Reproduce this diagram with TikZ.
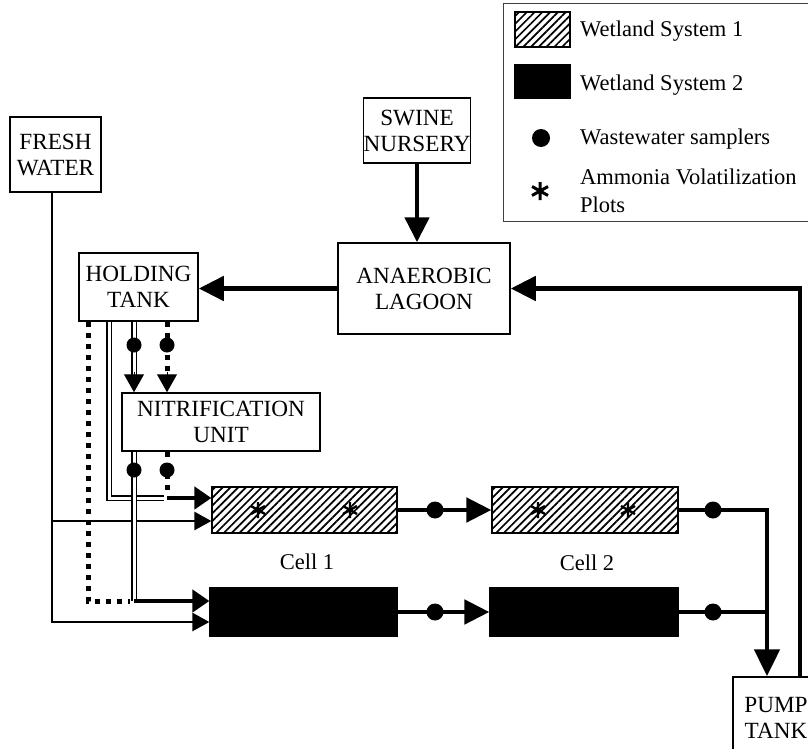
\documentclass[tikz,border=0pt]{standalone}
\usepackage{fontspec}
\setmainfont{Liberation Serif}
\usetikzlibrary{arrows.meta,patterns.meta,calc}
\newcommand\fsz{\fontsize{22.5}{26}\selectfont}
\newcommand\bfsz{\fontsize{23.2}{26}\selectfont}
\begin{document}
\begin{tikzpicture}[x=1pt,y=-1pt,
  box/.style={draw=black, line width=1.5pt, align=center, inner sep=0pt, font=\bfsz},
  lbl/.style={font=\fsz, inner sep=0pt},
  pipe/.style={line width=4.8pt},
  thinpipe/.style={line width=2.5pt},
  dbl/.style={draw=black, double=white, line width=1.7pt, double distance=3pt},
  dotline/.style={line width=5pt, dash pattern=on 5pt off 6pt},
  arrbig/.style={-{Triangle[width=24pt,length=25pt]}},
  arrmid/.style={-{Triangle[width=20pt,length=18pt]}},
  arrcellup/.style={-{Triangle[width=22pt,length=17pt]}},
  arrcelllo/.style={-{Triangle[width=18pt,length=17pt]}},
  arrcell/.style={-{Triangle[width=24pt,length=25pt]}},
  sampler/.style={circle, fill=black, inner sep=0pt, minimum size=15pt},
  hatchcell/.style={draw=black, line width=1.2pt, inner sep=0pt,
     pattern={Lines[angle=45,distance=5.5pt,line width=1.7pt]}},
  blackcell/.style={draw=black, fill=black, line width=1.2pt, inner sep=0pt},
  ast/.pic={\draw[line width=2.4pt] (0,-8)--(0,8) (-7,-4)--(7,4) (-7,4)--(7,-4);},
  bigast/.pic={\draw[line width=3pt] (0,-9)--(0,9) (-8,-4.5)--(8,4.5) (-8,4.5)--(8,-4.5);}
]
\useasboundingbox (0,0) rectangle (808,749);
\clip (0,0) rectangle (808,749);

% ---------- legend ----------
\node[draw=black!75, line width=1pt, minimum width=310pt, minimum height=218pt, inner sep=0pt, anchor=north west] (legend) at (503,3) {};
\node[hatchcell, minimum width=55pt, minimum height=35pt] (sw1) at (542.5,29.5) {};
\node[blackcell, minimum width=55pt, minimum height=33pt] (sw2) at (542.5,81.5) {};
\node[sampler, minimum size=18pt] (sdot) at (541,138) {};
\pic at (540,191) {bigast};
\node[lbl, anchor=base west] (t1) at (580,37) {Wetland System 1};
\node[lbl, anchor=base west] (t2) at (580,91) {Wetland System 2};
\node[lbl, anchor=base west] (t3) at (580,145) {Wastewater samplers};
\node[lbl, anchor=base west] (t4) at (580,184) {Ammonia Volatilization};
\node[lbl, anchor=base west] (t5) at (580,212) {Plots};

% ---------- boxes ----------
\node[box, minimum width=91pt, minimum height=75pt] (fresh) at (55.5,154.5) {FRESH\\WATER};
\node[box, minimum width=107pt, minimum height=65pt] (swine) at (417,130.5) {SWINE\\NURSERY};
\node[box, minimum width=172pt, minimum height=91pt] (lagoon) at (424,288.5) {ANAEROBIC\\LAGOON};
\node[box, minimum width=119pt, minimum height=68pt] (hold) at (138.5,287) {HOLDING\\TANK};
\node[box, minimum width=198pt, minimum height=58pt] (nitri) at (221,422) {NITRIFICATION\\UNIT};
\node[box, minimum width=86pt, minimum height=82pt] (pump) at (776,718) {PUMP\\TANK};

% ---------- cells ----------
\node[hatchcell, minimum width=185pt, minimum height=46pt] (c1a) at (304.5,510) {};
\node[hatchcell, minimum width=186pt, minimum height=46pt] (c2a) at (585,510) {};
\node[blackcell, minimum width=187pt, minimum height=48pt] (c1b) at (303.5,612) {};
\node[blackcell, minimum width=188pt, minimum height=48pt] (c2b) at (584,612) {};
\pic at (258,510) {ast};
\pic at (350,510) {ast};
\pic at (538,510) {ast};
\pic at (628,510) {ast};
\node[lbl] (cell1) at (307,562) {Cell 1};
\node[lbl] (cell2) at (587,563) {Cell 2};

% ---------- helper coordinates ----------
\coordinate (xF) at (52,0);
\coordinate (xA) at (88,0);
\coordinate (xB) at (109,0);
\coordinate (xD) at (134,0);
\coordinate (xE) at (167,0);
\coordinate (xP) at (767,0);
\coordinate (xR) at (800,0);
\coordinate (c1aU) at ($(c1a.west)+(0,-12)$);
\coordinate (c1aL) at ($(c1a.west)+(0,11)$);
\coordinate (c1bU) at ($(c1b.west)+(0,-11)$);
\coordinate (c1bL) at ($(c1b.west)+(0,10)$);

% ---------- main flow ----------
\draw[pipe, arrbig] (swine.south) -- (swine.south |- lagoon.north);
\draw[pipe, arrbig] (lagoon.west) -- (lagoon.west -| hold.east);
\draw[pipe, arrbig] (pump.north -| xR) -- (xR |- lagoon.east) -- (lagoon.east);

% fresh water
\draw[thinpipe, arrcelllo] (fresh.south -| xF) -- (xF |- c1bL) -- (c1bL);
\draw[thinpipe, arrcelllo] (xF |- c1aL) -- (c1aL);

% dotted bypass to system 2
\draw[dotline] (hold.south -| xA) -- (xA |- c1bU) -- ($(xD |- c1bU)+(-4,0)$);
% double line bypass to system 1
\draw[dbl] (hold.south -| xB) -- (xB |- c1aU) -- ($(xE |- c1aU)+(-3,0)$);
% holding tank -> nitrification (double, system 2)
\draw[dbl] (hold.south -| xD) -- ($(nitri.north -| xD)+(0,-17)$);
\draw[line width=1pt, arrmid] ($(nitri.north -| xD)+(0,-20)$) -- (nitri.north -| xD);
% holding tank -> nitrification (dotted, system 1)
\draw[dotline] (hold.south -| xE) -- ($(nitri.north -| xE)+(0,-17)$);
\draw[line width=1pt, arrmid] ($(nitri.north -| xE)+(0,-20)$) -- (nitri.north -| xE);
\node[sampler] (sD1) at (134,345) {};
\node[sampler] (sE1) at (167,345) {};
% nitrification -> cells
\draw[dotline] (nitri.south -| xE) -- ($(xE |- c1aU)+(0,-3)$);
\draw[pipe, arrcellup] (xE |- c1aU) -- (c1aU);
\draw[dbl] (nitri.south -| xD) -- (xD |- c1bU);
\draw[pipe, arrcellup] (xD |- c1bU) -- (c1bU);
\node[sampler] (sD2) at (134,470) {};
\node[sampler] (sE2) at (167,470) {};

% between cells
\draw[pipe, arrcell] (c1a.east) -- (c2a.west);
\draw[pipe, arrcell] (c1b.east) -- (c2b.west);
\node[sampler, minimum size=17pt] (s1) at (435,510) {};
\node[sampler, minimum size=17pt] (s2) at (435,612) {};

% to pump tank
\draw[pipe, -{Triangle[width=25pt,length=27pt]}] (c2a.east) -- (c2a.east -| xP) -- (pump.north -| xP);
\draw[pipe] (c2b.east) -- (c2b.east -| xP);
\node[sampler, minimum size=17pt] (s3) at (713,510) {};
\node[sampler, minimum size=17pt] (s4) at (713,612) {};
\end{tikzpicture}
\end{document}
